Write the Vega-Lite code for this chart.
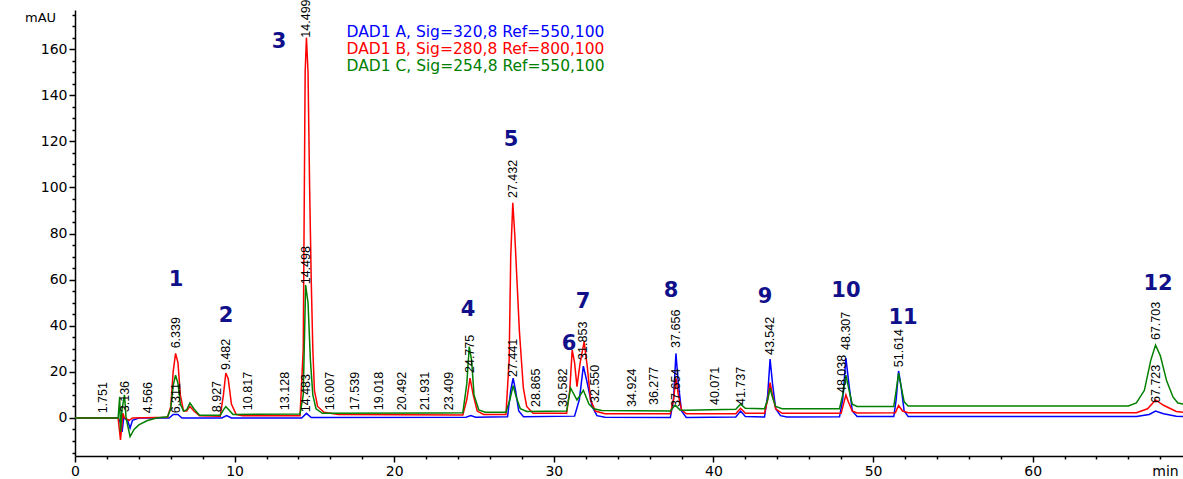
{
  "$schema": "https://vega.github.io/schema/vega-lite/v6.json",
  "width": 1108,
  "height": 446,
  "autosize": {"type": "none"},
  "padding": {"left": 75, "top": 10, "right": 0, "bottom": 23},
  "background": "white",
  "config": {"view": {"stroke": null}, "font": "DejaVu Sans"},
  "datasets": {
    "channels": [
      {"ch": "A", "name": "DAD1 A, Sig=320,8 Ref=550,100"},
      {"ch": "B", "name": "DAD1 B, Sig=280,8 Ref=800,100"},
      {"ch": "C", "name": "DAD1 C, Sig=254,8 Ref=550,100"}
    ],
    "traces": [
      {"ch":"A","t":0,"v":0},{"ch":"A","t":2.7,"v":0},{"ch":"A","t":2.85,"v":-2},{"ch":"A","t":2.95,"v":-6},{"ch":"A","t":3.05,"v":0},{"ch":"A","t":3.3,"v":-1},{"ch":"A","t":3.45,"v":-4.4},{"ch":"A","t":3.6,"v":-1},{"ch":"A","t":4.0,"v":0},{"ch":"A","t":5.9,"v":0},{"ch":"A","t":6.15,"v":1.5},{"ch":"A","t":6.45,"v":1.5},{"ch":"A","t":6.7,"v":0},{"ch":"A","t":9.2,"v":0},{"ch":"A","t":9.5,"v":1},{"ch":"A","t":9.8,"v":0},{"ch":"A","t":14.2,"v":0},{"ch":"A","t":14.5,"v":2},{"ch":"A","t":14.8,"v":0.2},{"ch":"A","t":24.5,"v":0.3},{"ch":"A","t":24.8,"v":1},{"ch":"A","t":25.1,"v":0.3},{"ch":"A","t":27.1,"v":0.5},{"ch":"A","t":27.3,"v":12},{"ch":"A","t":27.45,"v":17.3},{"ch":"A","t":27.6,"v":12},{"ch":"A","t":27.8,"v":3},{"ch":"A","t":28.1,"v":0.5},{"ch":"A","t":31.3,"v":0.8},{"ch":"A","t":31.6,"v":8},{"ch":"A","t":31.85,"v":22.5},{"ch":"A","t":32.1,"v":15},{"ch":"A","t":32.4,"v":5},{"ch":"A","t":32.7,"v":1},{"ch":"A","t":33.2,"v":0.3},{"ch":"A","t":37.3,"v":0.2},{"ch":"A","t":37.5,"v":8},{"ch":"A","t":37.65,"v":28},{"ch":"A","t":37.8,"v":15},{"ch":"A","t":38.0,"v":3},{"ch":"A","t":38.3,"v":0.2},{"ch":"A","t":41.4,"v":0.4},{"ch":"A","t":41.7,"v":3},{"ch":"A","t":42.0,"v":0.6},{"ch":"A","t":43.2,"v":0.4},{"ch":"A","t":43.4,"v":10},{"ch":"A","t":43.55,"v":25.6},{"ch":"A","t":43.7,"v":15},{"ch":"A","t":43.9,"v":4},{"ch":"A","t":44.2,"v":1},{"ch":"A","t":44.6,"v":0.4},{"ch":"A","t":47.9,"v":0.5},{"ch":"A","t":48.1,"v":8},{"ch":"A","t":48.3,"v":26},{"ch":"A","t":48.5,"v":14},{"ch":"A","t":48.7,"v":3},{"ch":"A","t":49.0,"v":0.6},{"ch":"A","t":51.3,"v":0.6},{"ch":"A","t":51.45,"v":8},{"ch":"A","t":51.6,"v":20.4},{"ch":"A","t":51.75,"v":14},{"ch":"A","t":51.95,"v":3},{"ch":"A","t":52.2,"v":0.6},{"ch":"A","t":66.5,"v":0.6},{"ch":"A","t":67.3,"v":1.5},{"ch":"A","t":67.7,"v":3},{"ch":"A","t":68.2,"v":1.8},{"ch":"A","t":69.0,"v":0.7},{"ch":"A","t":69.42,"v":0.6},
      {"ch":"B","t":0,"v":0},{"ch":"B","t":2.7,"v":0},{"ch":"B","t":2.85,"v":-9.5},{"ch":"B","t":2.95,"v":-2},{"ch":"B","t":3.0,"v":2},{"ch":"B","t":3.1,"v":0},{"ch":"B","t":3.4,"v":-1},{"ch":"B","t":3.6,"v":0},{"ch":"B","t":5.8,"v":0.3},{"ch":"B","t":6.0,"v":5},{"ch":"B","t":6.15,"v":20},{"ch":"B","t":6.3,"v":28},{"ch":"B","t":6.45,"v":24},{"ch":"B","t":6.6,"v":10},{"ch":"B","t":6.8,"v":3},{"ch":"B","t":7.0,"v":3},{"ch":"B","t":7.2,"v":5},{"ch":"B","t":7.45,"v":3},{"ch":"B","t":7.8,"v":1},{"ch":"B","t":9.1,"v":0.8},{"ch":"B","t":9.3,"v":10},{"ch":"B","t":9.45,"v":19.5},{"ch":"B","t":9.6,"v":17},{"ch":"B","t":9.8,"v":6},{"ch":"B","t":10.1,"v":1.5},{"ch":"B","t":10.5,"v":1},{"ch":"B","t":14.1,"v":1},{"ch":"B","t":14.3,"v":30},{"ch":"B","t":14.42,"v":150},{"ch":"B","t":14.5,"v":165},{"ch":"B","t":14.6,"v":150},{"ch":"B","t":14.7,"v":100},{"ch":"B","t":14.8,"v":60},{"ch":"B","t":14.9,"v":30},{"ch":"B","t":15.0,"v":12},{"ch":"B","t":15.2,"v":5},{"ch":"B","t":15.6,"v":2.5},{"ch":"B","t":16.5,"v":1.5},{"ch":"B","t":24.3,"v":1.3},{"ch":"B","t":24.55,"v":8},{"ch":"B","t":24.75,"v":17.3},{"ch":"B","t":24.95,"v":10},{"ch":"B","t":25.2,"v":3},{"ch":"B","t":25.6,"v":1.5},{"ch":"B","t":27.0,"v":1.5},{"ch":"B","t":27.2,"v":25},{"ch":"B","t":27.3,"v":70},{"ch":"B","t":27.43,"v":93.4},{"ch":"B","t":27.55,"v":80},{"ch":"B","t":27.71,"v":57},{"ch":"B","t":27.84,"v":38},{"ch":"B","t":28.09,"v":13},{"ch":"B","t":28.3,"v":5},{"ch":"B","t":28.7,"v":2},{"ch":"B","t":30.8,"v":2},{"ch":"B","t":31.0,"v":12},{"ch":"B","t":31.15,"v":29.5},{"ch":"B","t":31.3,"v":24},{"ch":"B","t":31.45,"v":13.6},{"ch":"B","t":31.65,"v":24},{"ch":"B","t":31.9,"v":33},{"ch":"B","t":32.1,"v":22},{"ch":"B","t":32.3,"v":8},{"ch":"B","t":32.6,"v":3},{"ch":"B","t":33.2,"v":1.8},{"ch":"B","t":37.3,"v":1.8},{"ch":"B","t":37.5,"v":8},{"ch":"B","t":37.65,"v":17.3},{"ch":"B","t":37.8,"v":10},{"ch":"B","t":38.0,"v":3.5},{"ch":"B","t":38.3,"v":1.8},{"ch":"B","t":41.4,"v":1.8},{"ch":"B","t":41.7,"v":4.2},{"ch":"B","t":42.0,"v":2},{"ch":"B","t":43.2,"v":2},{"ch":"B","t":43.4,"v":8},{"ch":"B","t":43.55,"v":15.3},{"ch":"B","t":43.7,"v":10},{"ch":"B","t":43.9,"v":4},{"ch":"B","t":44.3,"v":2},{"ch":"B","t":48.0,"v":2},{"ch":"B","t":48.15,"v":6},{"ch":"B","t":48.3,"v":10},{"ch":"B","t":48.45,"v":7},{"ch":"B","t":48.7,"v":3},{"ch":"B","t":49.0,"v":2.2},{"ch":"B","t":51.4,"v":2.3},{"ch":"B","t":51.6,"v":5.4},{"ch":"B","t":51.85,"v":3},{"ch":"B","t":52.2,"v":2.3},{"ch":"B","t":66.5,"v":2.3},{"ch":"B","t":67.2,"v":4},{"ch":"B","t":67.7,"v":7.8},{"ch":"B","t":68.2,"v":5.5},{"ch":"B","t":69.0,"v":2.8},{"ch":"B","t":69.42,"v":2.5},
      {"ch":"C","t":0,"v":0},{"ch":"C","t":2.7,"v":0},{"ch":"C","t":2.8,"v":9.2},{"ch":"C","t":2.85,"v":-6},{"ch":"C","t":2.95,"v":4},{"ch":"C","t":3.1,"v":10},{"ch":"C","t":3.2,"v":0},{"ch":"C","t":3.45,"v":-8.1},{"ch":"C","t":3.7,"v":-5},{"ch":"C","t":4.0,"v":-3},{"ch":"C","t":4.5,"v":-1.2},{"ch":"C","t":5.1,"v":0},{"ch":"C","t":5.8,"v":0.5},{"ch":"C","t":6.0,"v":4},{"ch":"C","t":6.15,"v":14},{"ch":"C","t":6.3,"v":18.6},{"ch":"C","t":6.45,"v":15},{"ch":"C","t":6.6,"v":6},{"ch":"C","t":6.8,"v":3},{"ch":"C","t":7.0,"v":3.5},{"ch":"C","t":7.2,"v":6.5},{"ch":"C","t":7.45,"v":4},{"ch":"C","t":7.8,"v":1.2},{"ch":"C","t":9.1,"v":1.2},{"ch":"C","t":9.3,"v":3.5},{"ch":"C","t":9.45,"v":4.9},{"ch":"C","t":9.65,"v":3.5},{"ch":"C","t":9.9,"v":1.5},{"ch":"C","t":14.1,"v":1.7},{"ch":"C","t":14.3,"v":10},{"ch":"C","t":14.45,"v":57.7},{"ch":"C","t":14.6,"v":50},{"ch":"C","t":14.75,"v":25},{"ch":"C","t":14.9,"v":10},{"ch":"C","t":15.1,"v":4},{"ch":"C","t":15.5,"v":2},{"ch":"C","t":23.0,"v":2.2},{"ch":"C","t":24.3,"v":2.3},{"ch":"C","t":24.55,"v":15},{"ch":"C","t":24.7,"v":30.9},{"ch":"C","t":24.85,"v":25},{"ch":"C","t":25.0,"v":10},{"ch":"C","t":25.3,"v":3.5},{"ch":"C","t":25.7,"v":2.5},{"ch":"C","t":27.0,"v":2.5},{"ch":"C","t":27.25,"v":8},{"ch":"C","t":27.45,"v":14},{"ch":"C","t":27.65,"v":9},{"ch":"C","t":27.9,"v":4},{"ch":"C","t":28.3,"v":2.8},{"ch":"C","t":30.8,"v":3},{"ch":"C","t":31.05,"v":13},{"ch":"C","t":31.45,"v":7.8},{"ch":"C","t":31.85,"v":12},{"ch":"C","t":32.2,"v":6},{"ch":"C","t":32.5,"v":4},{"ch":"C","t":33.0,"v":3.2},{"ch":"C","t":37.3,"v":3},{"ch":"C","t":37.6,"v":5.6},{"ch":"C","t":37.9,"v":3.5},{"ch":"C","t":38.3,"v":3.4},{"ch":"C","t":41.4,"v":3.8},{"ch":"C","t":41.7,"v":6},{"ch":"C","t":42.0,"v":4.2},{"ch":"C","t":43.2,"v":4},{"ch":"C","t":43.4,"v":8},{"ch":"C","t":43.55,"v":12.9},{"ch":"C","t":43.7,"v":9},{"ch":"C","t":43.9,"v":5},{"ch":"C","t":44.3,"v":4},{"ch":"C","t":47.9,"v":4},{"ch":"C","t":48.1,"v":10},{"ch":"C","t":48.3,"v":18.6},{"ch":"C","t":48.5,"v":12},{"ch":"C","t":48.7,"v":6},{"ch":"C","t":49.0,"v":5},{"ch":"C","t":51.3,"v":5},{"ch":"C","t":51.45,"v":12},{"ch":"C","t":51.6,"v":19.5},{"ch":"C","t":51.75,"v":14},{"ch":"C","t":51.95,"v":7},{"ch":"C","t":52.2,"v":5.2},{"ch":"C","t":66.0,"v":5.2},{"ch":"C","t":66.5,"v":6.5},{"ch":"C","t":67.0,"v":12},{"ch":"C","t":67.4,"v":25},{"ch":"C","t":67.7,"v":31.6},{"ch":"C","t":68.0,"v":27},{"ch":"C","t":68.4,"v":16},{"ch":"C","t":68.8,"v":9},{"ch":"C","t":69.1,"v":6.5},{"ch":"C","t":69.42,"v":6}
    ],
    "rtlabels": [
      {"t":1.751,"v":2.0},{"t":3.136,"v":2.5},{"t":4.566,"v":2.0},{"t":6.339,"v":30.2},{"t":6.311,"v":2.0},{"t":8.927,"v":2.5},{"t":9.482,"v":20.8},{"t":10.817,"v":3.4},{"t":13.128,"v":3.4},{"t":14.483,"v":2.5},{"t":14.498,"v":58},{"t":14.499,"v":165},{"t":16.007,"v":3.4},{"t":17.539,"v":3.4},{"t":19.018,"v":3.4},{"t":20.492,"v":3.4},{"t":21.931,"v":3.4},{"t":23.409,"v":3.4},{"t":24.775,"v":19.5},{"t":27.441,"v":17.8},{"t":27.432,"v":95.4},{"t":28.865,"v":4.8},{"t":30.582,"v":4.8},{"t":31.853,"v":25.2},{"t":32.550,"v":6.5},{"t":34.924,"v":4.8},{"t":36.277,"v":5.6},{"t":37.654,"v":4.8},{"t":37.656,"v":30.4},{"t":40.071,"v":5.6},{"t":41.737,"v":5.6},{"t":43.542,"v":27.3},{"t":48.038,"v":10.8},{"t":48.307,"v":29.5},{"t":51.614,"v":22},{"t":67.703,"v":33.8},{"t":67.723,"v":6.5}
    ],
    "peaks": [
      {"n":"1","t":6.33,"v":59.8},{"n":"2","t":9.46,"v":44.2},{"n":"3","t":12.78,"v":163.0},{"n":"4","t":24.62,"v":46.8},{"n":"5","t":27.32,"v":120.5},{"n":"6","t":30.95,"v":32.0},{"n":"7","t":31.83,"v":50.3},{"n":"8","t":37.34,"v":55.1},{"n":"9","t":43.23,"v":52.5},{"n":"10","t":48.3,"v":55.1},{"n":"11","t":51.88,"v":43.4},{"n":"12","t":67.86,"v":58.1}
    ]
  },
  "encoding": {
    "x": {
      "field": "t", "type": "quantitative",
      "scale": {"domain": [0, 69.42], "nice": false, "zero": false},
      "axis": {
        "values": [0,2,4,6,8,10,12,14,16,18,20,22,24,26,28,30,32,34,36,38,40,42,44,46,48,50,52,54,56,58,60,62,64,66,68],
        "labelExpr": "datum.value % 10 === 0 ? datum.label : ''",
        "format": "d",
        "tickSize": {"condition": {"test": "datum.value % 10 === 0", "value": 6}, "value": 3},
        "grid": false, "domainColor": "black", "tickColor": "black", "domainWidth": 1.5, "tickWidth": 1.5,
        "labelFont": "DejaVu Sans", "labelFontSize": 14, "labelColor": "black", "labelPadding": 2,
        "labelFlush": false, "labelOverlap": false, "labelBound": false,
        "title": "min", "titleX": 1090, "titleY": 8, "titleAlign": "center", "titleBaseline": "top",
        "titleFont": "DejaVu Sans", "titleFontSize": 14, "titleFontWeight": "normal", "titleColor": "black"
      }
    },
    "y": {
      "field": "v", "type": "quantitative",
      "scale": {"domain": [-16.5, 177], "nice": false, "zero": false},
      "axis": {
        "values": [-15,-10,-5,0,5,10,15,20,25,30,35,40,45,50,55,60,65,70,75,80,85,90,95,100,105,110,115,120,125,130,135,140,145,150,155,160,165,170,175],
        "labelExpr": "datum.value % 20 === 0 ? datum.label : ''",
        "format": "d",
        "tickSize": {"condition": {"test": "datum.value % 20 === 0", "value": 6}, "value": 3},
        "grid": false, "domainColor": "black", "tickColor": "black", "domainWidth": 1.5, "tickWidth": 1.5,
        "labelFont": "DejaVu Sans", "labelFontSize": 14, "labelColor": "black", "labelPadding": 2,
        "labelOverlap": false, "labelBound": false,
        "title": "mAU", "titleAngle": 0, "titleX": -35, "titleY": 7, "titleAlign": "center", "titleBaseline": "middle",
        "titleFont": "DejaVu Sans", "titleFontSize": 13, "titleFontWeight": "normal", "titleColor": "black"
      }
    }
  },
  "layer": [
    {
      "data": {"name": "traces"},
      "transform": [{"lookup": "ch", "from": {"data": {"name": "channels"}, "key": "ch", "fields": ["name"]}}],
      "mark": {"type": "line", "strokeWidth": 1.5, "clip": true},
      "encoding": {
        "color": {
          "field": "name", "type": "nominal",
          "scale": {"domain": ["DAD1 A, Sig=320,8 Ref=550,100", "DAD1 B, Sig=280,8 Ref=800,100", "DAD1 C, Sig=254,8 Ref=550,100"], "range": ["#0000ff", "#ff0000", "#008000"]},
          "legend": {
            "orient": "none", "legendX": 256, "legendY": 14, "title": null,
            "symbolSize": 0, "symbolOpacity": 0, "symbolStrokeWidth": 0, "labelOffset": 0,
            "labelFont": "DejaVu Sans", "labelFontSize": 15.5, "rowPadding": -1.5, "padding": 0, "labelLimit": 400,
            "encode": {"labels": {"update": {"fill": {"scale": "color", "field": "value"}}}}
          }
        }
      }
    },
    {
      "data": {"name": "rtlabels"},
      "mark": {"type": "text", "angle": 270, "align": "left", "baseline": "middle", "font": "Liberation Sans", "fontSize": 12.5, "color": "black"},
      "encoding": {"text": {"field": "t", "type": "quantitative", "format": ".3f"}}
    },
    {
      "data": {"name": "peaks"},
      "mark": {"type": "text", "align": "center", "baseline": "middle", "font": "DejaVu Sans", "fontWeight": "bold", "fontSize": 21, "color": "#10108a"},
      "encoding": {"text": {"field": "n", "type": "nominal"}}
    }
  ]
}
